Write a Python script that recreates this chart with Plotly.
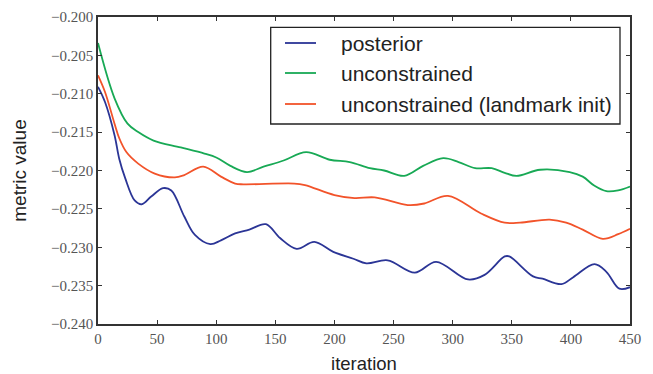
import plotly.graph_objects as go

# posterior
post_x = [0, 6, 14, 18, 23, 31, 37, 45, 55, 62, 73, 82, 95, 104, 116, 128, 142, 154, 168, 183, 199,
          216, 227, 245, 268, 286, 313, 327, 344, 348, 368, 376, 392, 402, 420, 430, 441, 450]
post_y = [-0.2091, -0.2111, -0.2154, -0.2185, -0.2210, -0.2239, -0.2244, -0.2234, -0.2223, -0.2226, -0.2260,
          -0.2284, -0.2296, -0.2291, -0.2282, -0.2277, -0.2270, -0.2288, -0.2302, -0.2293, -0.2306,
          -0.2315, -0.2321, -0.2317, -0.2333, -0.2319, -0.2342, -0.2336, -0.2312, -0.2312, -0.2338,
          -0.2341, -0.2348, -0.2339, -0.2322, -0.2332, -0.2354, -0.2352]

# unconstrained
unc_x = [0, 14, 25, 34, 47, 70, 90, 100, 112, 126, 140, 157, 176, 196, 213, 230, 242, 259, 275,
         292, 305, 319, 333, 344, 354, 374, 399, 410, 420, 430, 440, 450]
unc_y = [-0.2034, -0.2106, -0.2139, -0.2150, -0.2161, -0.2170, -0.2178, -0.2183, -0.2194, -0.2202,
         -0.2195, -0.2187, -0.2176, -0.2186, -0.2189, -0.2197, -0.2200, -0.2207, -0.2194, -0.2184,
         -0.2189, -0.2197, -0.2197, -0.2203, -0.2207, -0.2199, -0.2202, -0.2208, -0.2220, -0.2227,
         -0.2226, -0.2221]

# unconstrained (landmark init)
lm_x = [0, 6, 14, 18, 24, 34, 48, 65, 73, 89, 104, 116, 123, 166, 175, 200, 217, 234, 262, 276, 296,
        324, 344, 357, 382, 396, 410, 427, 440, 450]
lm_y = [-0.2076, -0.2098, -0.2139, -0.2158, -0.2176, -0.2191, -0.2204, -0.2209, -0.2206, -0.2195,
        -0.2208, -0.2217, -0.2218, -0.2217, -0.2219, -0.2232, -0.2236, -0.2235, -0.2245, -0.2243,
        -0.2233, -0.2256, -0.2268, -0.2268, -0.2264, -0.2268, -0.2277, -0.2289, -0.2283, -0.2276]

names = ["posterior", "unconstrained", "unconstrained (landmark init)"]
colors = ["#2b3596", "#18a955", "#f2532a"]

x_ticks = [0, 50, 100, 150, 200, 250, 300, 350, 400, 450]
y_ticks = [-0.200, -0.205, -0.210, -0.215, -0.220, -0.225, -0.230, -0.235, -0.240]

W, H = 653, 374
L, R, T, B = 98, 23, 17, 50
pw, ph = W - L - R, H - T - B


def px(xp):
    return (xp - L) / pw


def py(yp):
    return (H - B - yp) / ph


fig = go.Figure()
for xs, ys, nm, c in zip([post_x, unc_x, lm_x], [post_y, unc_y, lm_y], names, colors):
    fig.add_trace(go.Scatter(x=xs, y=ys, mode="lines", name=nm, showlegend=False,
                             line=dict(color=c, width=1.8, shape="spline", smoothing=1.0)))

# legend box drawn manually
shapes = [dict(type="rect", xref="paper", yref="paper", x0=px(270.7), x1=px(620), y0=py(124), y1=py(27.3),
               line=dict(color="#222", width=1.3), fillcolor="white", layer="above")]
annotations = []
row_y = [43, 73, 104]
for nm, c, ry in zip(names, colors, row_y):
    shapes.append(dict(type="line", xref="paper", yref="paper", x0=px(285), x1=px(316), y0=py(ry), y1=py(ry),
                       line=dict(color=c, width=1.8), layer="above"))
    annotations.append(dict(xref="paper", yref="paper", x=px(339), y=py(ry), text=nm, showarrow=False,
                            xanchor="left", yanchor="middle",
                            font=dict(family="Liberation Sans", size=21, color="#222")))

axis_common = dict(showgrid=False, zeroline=False, showline=True, linecolor="#333",
                   linewidth=1.5, mirror="allticks", ticks="inside", ticklen=4, automargin=False,
                   tickcolor="#333", tickfont=dict(family="Liberation Serif, serif", size=15, color="#555"))

fig.update_layout(
    width=W, height=H,
    margin=dict(l=L, r=R, t=T, b=B, autoexpand=False),
    plot_bgcolor="white", paper_bgcolor="white",
    xaxis=dict(range=[0, 450], tickvals=x_ticks, ticklabelstandoff=0,
               title=dict(text="iteration", font=dict(family="Liberation Sans", size=18.5, color="#222"),
                          standoff=18),
               **axis_common),
    yaxis=dict(range=[-0.240, -0.200], tickvals=y_ticks, tickformat=".3f",
               title=dict(text="metric value", font=dict(family="Liberation Sans", size=19, color="#222"),
                          standoff=19),
               **axis_common),
    shapes=shapes,
    annotations=annotations,
    showlegend=False,
)

fig.write_html("out.html")
